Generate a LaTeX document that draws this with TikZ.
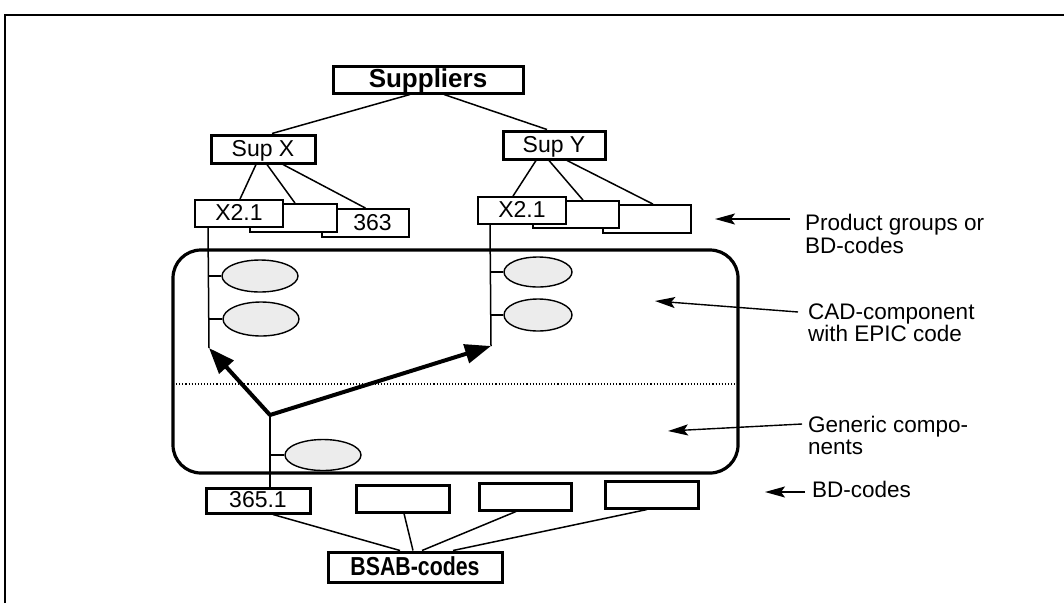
\documentclass[tikz,border=0pt]{standalone}
\usepackage{fontspec}
\setmainfont{Liberation Sans}
\usetikzlibrary{arrows.meta,shapes.geometric}
\begin{document}
\begin{tikzpicture}[x=1pt,y=-1pt,
  thickbox/.style={draw, line width=3pt, fill=white, inner sep=0pt, text depth=1.5pt, font=\fontsize{23}{25}\selectfont},
  thinbox/.style={draw, line width=1.8pt, fill=white, inner sep=0pt, text depth=1.5pt, font=\fontsize{23}{25}\selectfont},
  titlebox/.style={draw, line width=3pt, fill=white, inner sep=0pt, text depth=2pt, font=\bfseries\fontsize{26}{28}\selectfont},
  blob/.style={ellipse, draw, line width=1.4pt, fill=gray!15, inner sep=0pt},
  link/.style={line width=1.5pt},
  bigarrow/.style={line width=4pt, -{Triangle[length=26pt,width=19pt]}},
  pointer/.style={line width=1.4pt, -{Stealth[length=20pt,width=11pt,inset=4pt]}},
  lbl/.style={font=\fontsize{22.5}{22}\selectfont, align=left, inner sep=0pt, anchor=north west}]
\useasboundingbox (0,0) rectangle (1064,603);
\fill[white] (0,0) rectangle (1064,603);
% frame
\draw[line width=2.6pt] (5,603) -- (5,15) -- (1064,15);

% top tree
\node[titlebox, minimum width=190pt, minimum height=27pt] (sup) at (428,79.5) {Suppliers};
\node[thickbox, minimum width=104pt, minimum height=28pt] (supx) at (263,149) {Sup X};
\node[thickbox, minimum width=102pt, minimum height=28pt] (supy) at (554,145) {Sup Y};
\draw[link] ([xshift=-18pt]sup.south) -- ([xshift=9pt]supx.north);
\draw[link] ([xshift=16pt]sup.south) -- ([xshift=-7pt]supy.north);

% product group boxes under Sup X
\node[thinbox, minimum width=87pt, minimum height=28pt] (b363) at (365.5,223) {\hspace{14pt}363};
\node[thinbox, minimum width=87pt, minimum height=28pt] (mida) at (293.5,218) {};
\node[thinbox, minimum width=88pt, minimum height=27pt] (x21a) at (239,213.5) {X2.1\hspace{12pt}};
\draw[link] ([xshift=-7pt]supx.south) -- ([xshift=1pt]x21a.north);
\draw[link] ([xshift=4pt]supx.south) -- ([xshift=1.5pt]mida.north);
\draw[link] ([xshift=20pt]supx.south) -- (b363.north);

% product group boxes under Sup Y
\node[thinbox, minimum width=88pt, minimum height=28pt] (b3b) at (647,219) {};
\node[thinbox, minimum width=86pt, minimum height=27pt] (midb) at (576,214.5) {};
\node[thinbox, minimum width=88pt, minimum height=27pt] (x21b) at (522,210.5) {X2.1\hspace{18pt}};
\draw[link] ([xshift=-18pt]supy.south) -- ([xshift=-9pt]x21b.north);
\draw[link] ([xshift=-5pt]supy.south) -- ([xshift=7pt]midb.north);
\draw[link] ([xshift=13pt]supy.south) -- ([xshift=6pt]b3b.north);

% component area
\draw[line width=3.2pt, rounded corners=28pt] (173,250) rectangle (738,473);
\draw[line width=1.1pt, dotted] (173,384) -- (738,384);

% CAD components
\coordinate (tipL) at (209,348);
\coordinate (tipR) at (491,346);
\coordinate (J) at (270,415);
\node[blob, minimum width=76pt, minimum height=32pt] (e1) at (260,276) {};
\node[blob, minimum width=76pt, minimum height=34pt] (e2) at (261,319) {};
\node[blob, minimum width=68pt, minimum height=30pt] (e3) at (538,272) {};
\node[blob, minimum width=68pt, minimum height=32pt] (e4) at (538,315) {};
\draw[link] ([xshift=-31pt]x21a.south) -- (tipL);
\draw[link] ([xshift=-32pt]x21b.south) -- (tipR);
\draw[link] (209,276) -- (e1.west);
\draw[link] (209,319) -- (e2.west);
\draw[link] (491,272) -- (e3.west);
\draw[link] (491,315) -- (e4.west);

% generic component
\node[blob, minimum width=76pt, minimum height=31pt] (e5) at (323,455) {};
\draw[link] (270,455) -- (e5.west);

% bottom BD boxes
\node[thickbox, minimum width=104pt, minimum height=25pt] (b365) at (258,500.5) {365.1};
\node[thickbox, minimum width=93pt, minimum height=27pt] (bd2) at (402.5,498.5) {};
\node[thickbox, minimum width=92pt, minimum height=27pt] (bd3) at (525,496.5) {};
\node[thickbox, minimum width=93pt, minimum height=27pt] (bd4) at (651.5,494.5) {};
\draw[link] (J) -- ([xshift=12pt]b365.north);

\draw[bigarrow] (J) -- (tipL);
\draw[bigarrow] (J) -- (tipR);

% BSAB
\node[titlebox, minimum width=174pt, minimum height=30pt] (bsab) at (415,567) {\scalebox{0.82}[1]{BSAB-codes}};
\draw[link] ([xshift=15pt]b365.south) -- ([xshift=-15pt]bsab.north);
\draw[link] ([xshift=1.5pt]bd2.south) -- ([xshift=-2pt]bsab.north);
\draw[link] ([xshift=-9pt]bd3.south) -- ([xshift=7pt]bsab.north);
\draw[link] ([xshift=-4.5pt]bd4.south) -- ([xshift=38pt]bsab.north);

% labels with pointers
\node[lbl] (lprod) at (805,214) {Product groups or\\[1pt]BD-codes};
\coordinate (sprod) at (790,219);
\coordinate (pprod) at (715,219);
\draw[pointer] (sprod) -- (pprod);

\node[lbl] (lcad) at (808,304) {CAD-component\\with EPIC code};
\coordinate (scad) at (798,312);
\coordinate (pcad) at (655,301);
\draw[pointer] (scad) -- (pcad);

\node[lbl] (lgen) at (808,416) {Generic compo-\\nents};
\coordinate (sgen) at (802,424);
\coordinate (pgen) at (668,431);
\draw[pointer] (sgen) -- (pgen);

\node[lbl, anchor=base west] (lbd) at (812,497) {BD-codes};
\coordinate (sbd) at (805,492);
\coordinate (pbd) at (765,492);
\draw[pointer] (sbd) -- (pbd);
\end{tikzpicture}
\end{document}
